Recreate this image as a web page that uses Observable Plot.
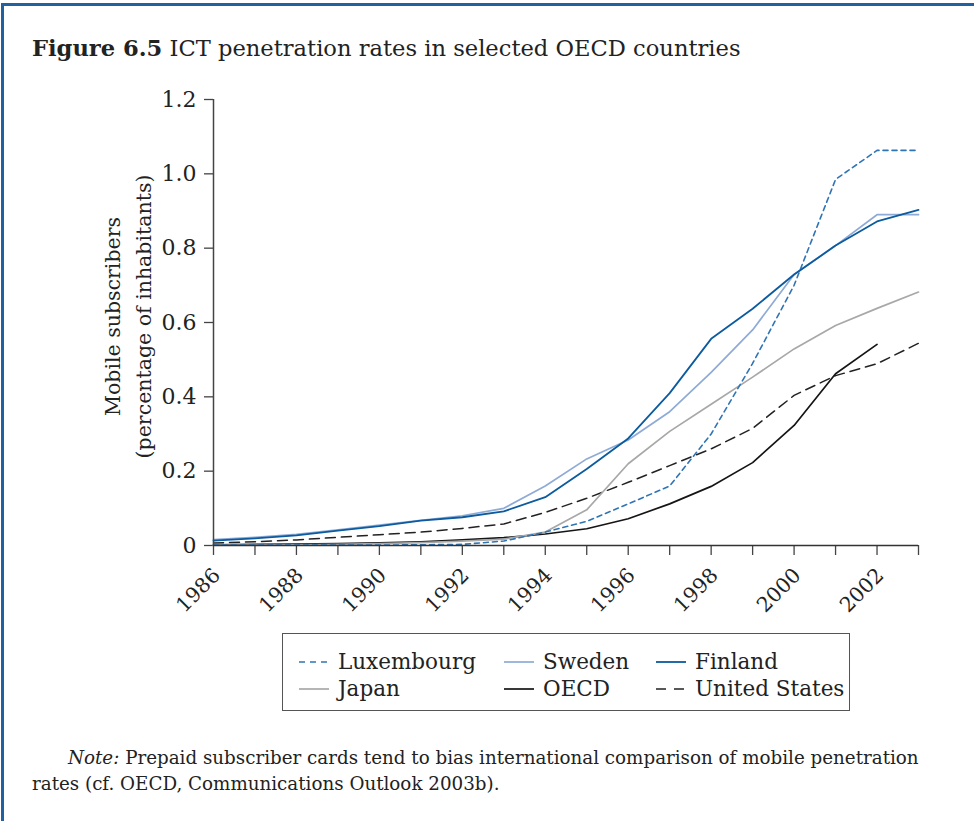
<!DOCTYPE html>
<html>
<head>
<meta charset="utf-8">
<script src="https://cdn.jsdelivr.net/npm/d3@7"></script>
<script src="https://cdn.jsdelivr.net/npm/@observablehq/plot@0.6"></script>
<style>
  html, body { margin: 0; padding: 0; background: #fff; }
  #wrap { position: relative; width: 974px; height: 821px; overflow: hidden; background: #fff; font-family: "DejaVu Serif", serif; color: #222; }
  #frame { position: absolute; left: 1px; top: 3px; width: 980px; height: 830px; border-top: 3px solid #22609f; border-left: 3px solid #22609f; }
  #title { position: absolute; left: 32px; top: 35px; font-size: 22.6px; white-space: nowrap; }
  #chart { position: absolute; left: 0; top: 0; }
  #legend { position: absolute; left: 282px; top: 633px; width: 568px; height: 78px; border: 1px solid #555; box-sizing: border-box; }
  .item { position: absolute; font-size: 21.5px; white-space: nowrap; line-height: 1; }
  .item svg { position: absolute; left: 0; top: 0; }
  .item span { position: absolute; left: 40px; top: -11px; }
  #note { position: absolute; left: 32px; top: 745px; width: 920px; font-size: 18.3px; line-height: 26px; }
</style>
</head>
<body>
<div id="wrap">
  <div id="frame"></div>
  <div id="title"><b>Figure 6.5</b> ICT penetration rates in selected OECD countries</div>
  <div id="chart"></div>
  <div id="legend"></div>
  <div id="note"><span style="padding-left:36px"><i>Note:</i> Prepaid subscriber cards tend to bias international comparison of mobile penetration</span><br>rates (cf. OECD, Communications Outlook 2003b).</div>
</div>
<script>
const years = [1986,1987,1988,1989,1990,1991,1992,1993,1994,1995,1996,1997,1998,1999,2000,2001,2002,2003];
const labelYears = [1986,1988,1990,1992,1994,1996,1998,2000,2002];
const yTicks = [0,0.2,0.4,0.6,0.8,1.0,1.2];

const luxembourg = [0.001,0.001,0.001,0.001,0.001,0.002,0.003,0.012,0.036,0.065,0.112,0.16,0.30,0.49,0.70,0.985,1.063,1.063];
const sweden     = [0.016,0.022,0.030,0.042,0.055,0.068,0.080,0.100,0.16,0.233,0.284,0.36,0.466,0.58,0.729,0.807,0.89,0.89];
const finland    = [0.013,0.019,0.027,0.040,0.052,0.067,0.076,0.092,0.13,0.206,0.288,0.41,0.556,0.637,0.729,0.807,0.872,0.903];
const japan      = [0.001,0.001,0.002,0.003,0.005,0.008,0.012,0.017,0.036,0.096,0.22,0.307,0.38,0.453,0.529,0.592,0.638,0.682];
const oecd       = [0.002,0.003,0.004,0.005,0.007,0.010,0.015,0.021,0.031,0.045,0.072,0.112,0.159,0.223,0.323,0.462,0.541,null];
const us         = [0.007,0.010,0.015,0.022,0.029,0.036,0.046,0.058,0.089,0.127,0.17,0.215,0.26,0.315,0.404,0.457,0.489,0.544];

const seriesNames = ["United States","OECD","Japan","Luxembourg","Sweden","Finland"];
const seriesValues = [us, oecd, japan, luxembourg, sweden, finland];
const styles = {
  "Luxembourg":    {stroke: "#2f74b5", dash: "5,4", width: 1.6},
  "Sweden":        {stroke: "#8eaad6", dash: null, width: 1.7},
  "Finland":       {stroke: "#0b5b9e", dash: null, width: 1.8},
  "Japan":         {stroke: "#a8a8a8", dash: null, width: 1.7},
  "OECD":          {stroke: "#151515", dash: null, width: 1.7},
  "United States": {stroke: "#222222", dash: "10,6", width: 1.5}
};

const rows = [];
seriesNames.forEach((name, i) => {
  seriesValues[i].forEach((v, j) => { if (v != null) rows.push({series: name, year: years[j], value: v}); });
});

const lineMarks = seriesNames.map(name => Plot.line(rows.filter(r => r.series === name), {
  x: "year", y: "value",
  stroke: styles[name].stroke,
  strokeWidth: styles[name].width,
  strokeDasharray: styles[name].dash
}));

const chart = Plot.plot({
  width: 974,
  height: 630,
  marginLeft: 213,
  marginRight: 56,
  marginTop: 99,
  marginBottom: 85,
  style: {fontFamily: "DejaVu Serif", background: "transparent", color: "#222"},
  x: {domain: [1986, 2003]},
  y: {domain: [0, 1.2]},
  marks: [
    Plot.axisY({ticks: yTicks, tickSize: 9, tickPadding: 8, fontSize: 22, stroke: "#444", strokeWidth: 1.3,
      tickFormat: d => d === 0 ? "0" : d.toFixed(1), label: null}),
    Plot.axisX({ticks: years, tickSize: 10, tickFormat: () => "", stroke: "#444", strokeWidth: 1.3, label: null}),
    Plot.text(labelYears, {x: d => d, y: 0, text: d => String(d), rotate: -45, textAnchor: "end", lineAnchor: "bottom", dx: 8, dy: 31, fontSize: 20.5, fill: "#222"}),
    Plot.text(["Mobile subscribers\n(percentage of inhabitants)"], {frameAnchor: "left", rotate: -90, dx: -88, dy: -6, lineAnchor: "middle", textAnchor: "middle", fontSize: 20.5, lineHeight: 1.5, fill: "#222"}),
    ...lineMarks,
    Plot.ruleX([1986], {stroke: "#444", strokeWidth: 1.5}),
    Plot.ruleY([0], {stroke: "#333", strokeWidth: 1.6})
  ]
});
document.getElementById("chart").appendChild(chart);

// Legend
const legendItems = [
  {name: "Luxembourg", x: 15, y: 28},
  {name: "Sweden", x: 220, y: 28},
  {name: "Finland", x: 372, y: 28},
  {name: "Japan", x: 15, y: 55},
  {name: "OECD", x: 220, y: 55},
  {name: "United States", x: 372, y: 55}
];
const legend = document.getElementById("legend");
legendItems.forEach(it => {
  const s = styles[it.name];
  const div = document.createElement("div");
  div.className = "item";
  div.style.left = it.x + "px";
  div.style.top = it.y + "px";
  const ns = "http://www.w3.org/2000/svg";
  const svg = document.createElementNS(ns, "svg");
  svg.setAttribute("width", 32); svg.setAttribute("height", 4);
  svg.style.top = "-2px";
  const ln = document.createElementNS(ns, "line");
  ln.setAttribute("x1", 1); ln.setAttribute("x2", 31); ln.setAttribute("y1", 2); ln.setAttribute("y2", 2);
  ln.setAttribute("stroke", s.stroke); ln.setAttribute("stroke-width", s.width);
  if (s.dash) ln.setAttribute("stroke-dasharray", it.name === "Luxembourg" ? "6,5" : "10,8");
  svg.appendChild(ln);
  div.appendChild(svg);
  const sp = document.createElement("span");
  sp.textContent = it.name;
  div.appendChild(sp);
  legend.appendChild(div);
});
</script>
</body>
</html>
